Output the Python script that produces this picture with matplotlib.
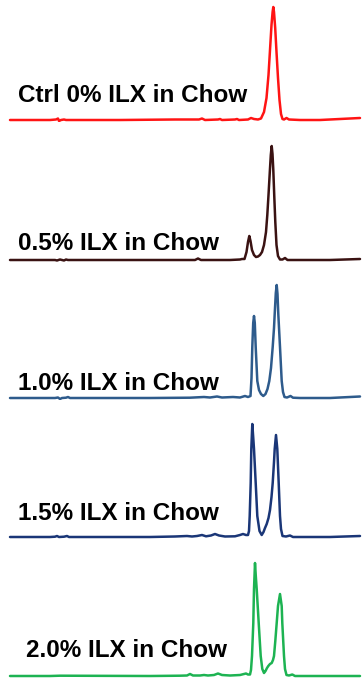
import matplotlib
matplotlib.use("Agg")
import matplotlib.pyplot as plt

# Labels and colours
labels = ["Ctrl 0% ILX in Chow", "0.5% ILX in Chow", "1.0% ILX in Chow",
          "1.5% ILX in Chow", "2.0% ILX in Chow"]
colors = ["#ff1414", "#3a1212", "#2e5b8c", "#1a3677", "#1db352"]

# Chromatogram traces: retention (arbitrary units), detector signal (arbitrary units)
t_ctrl = [10, 50, 56, 58, 59, 61, 64, 66, 120, 175, 199, 202, 205, 218, 220, 222, 235, 237, 239,
          248, 251, 254, 258, 261, 264, 266.5, 268.5, 270, 271.5, 272.6, 273.3, 274, 275.2, 276.5,
          278, 279.5, 281, 282.5, 284, 286.5, 289, 300, 320, 340, 360]
s_ctrl = [0, 0, 0.5, 1.5, -1, 0, 0.5, 0, 0, 0.5, 0.5, 1.5, 0, 0.5, 1, 0, 0.5, 1, 0,
          0.5, 2, 1, 0.5, 1.5, 8, 22, 45, 70, 95, 108, 113, 108, 92, 68,
          42, 20, 6, 1, 0.5, 2, 0.5, 0, 0, 1, 2]

t_05 = [10, 55, 57, 60, 64, 66, 68, 150, 195, 198, 201, 230, 240, 242, 244.5, 246.5, 248, 249.3,
        250.5, 252, 254, 256, 258, 260, 262, 264, 266, 267.3, 268.5, 269.8, 270.8, 271.7, 272.5,
        273.3, 274.3, 275.3, 276.5, 278, 280, 282.5, 285, 287.5, 300, 330, 360]
s_05 = [0, 0, -0.5, 0.5, -0.5, 0.5, 0, 0, 0, 1.5, 0, 0, 0.5, 1, 1, 8, 18, 24,
        19, 10, 5, 3, 3.5, 5, 8, 15, 28, 45, 65, 88, 105, 114, 106,
        90, 63, 38, 15, 4, 0.5, 0.5, 2, 0, 0, 0, 1]

t_10 = [10, 55, 58, 60, 62, 66, 68, 70, 150, 190, 204, 210, 217, 222, 233, 240, 245, 248, 250.5,
        251.5, 252.3, 253.2, 254, 254.8, 255.7, 257.3, 259, 261, 263.3, 265.5, 267.5, 269.3, 271,
        272.7, 274, 274.7, 275.8, 276.7, 277.5, 278.3, 280, 281.7, 283, 284.5, 287, 290.5, 293,
        300, 330, 360]
s_10 = [0, 0, 0.5, -1, 0, 0.3, 1, 0, 0, 0.3, 1, 0.5, 1.5, 0.5, 1, 0.5, 2, 1, 2,
        20, 51, 75, 82, 75, 51, 17, 8, 4, 2, 4, 9, 17, 30,
        51, 70, 84, 105, 113, 104, 84, 51, 17, 6, 1, 0.5, 2, 0.3,
        0, 0, 1.5]

t_15 = [10, 50, 55, 57, 59, 64, 67, 69, 150, 175, 187, 192, 197, 202, 206, 211, 215, 219, 225,
        235, 240, 243, 246, 248, 249, 249.7, 250.7, 251.3, 252.3, 253.2, 254, 255.7, 257.3, 259.5,
        261.7, 263.5, 265, 266.7, 268.5, 270, 271.5, 272.7, 274, 274.7, 276, 277.3, 278.7, 280,
        281, 282.5, 286, 290, 293, 300, 330, 360]
s_15 = [0, 0, 0.3, 1, 0, 0.3, 1, 0, 0, 0.5, 1, 0.5, 1, 2, 0.7, 1.5, 3, 1.5, 0.5,
        0.7, 2, 3, 2, 2, 6, 21, 54, 88, 113, 100, 88, 54, 21, 6,
        2, 5, 9, 13, 19, 27, 40, 54, 75, 88, 102, 88, 54, 21,
        8, 1, 0.5, 1.5, 0, 0, 0, 1]

t_20 = [10, 50, 60, 150, 180, 187, 190, 193, 200, 204, 208, 214, 218, 222, 230, 240, 244, 246,
        248, 250, 251, 252, 253.3, 254, 255, 255.8, 256.7, 258.7, 260.7, 262.3, 264, 265.5, 267,
        268.3, 270, 271.7, 273, 274, 275.3, 276.7, 278, 280, 281.7, 282.3, 284, 285, 286.5, 289,
        292.3, 295, 320, 360]
s_20 = [0, 0, 0.3, 0, 0.3, 0.5, 2, 0.5, 0.5, 1, 0.5, 1, 2.5, 1, 0.5, 1, 2, 2.5,
        1.5, 1.5, 6, 20, 53, 87, 113, 100, 87, 53, 20, 7, 3, 5, 8,
        10, 12, 13, 16, 20, 35, 53, 70, 82, 70, 53, 20, 7, 1, 0.5,
        1.5, 0, 0, 0]

times = [t_ctrl, t_05, t_10, t_15, t_20]
signals = [s_ctrl, s_05, s_10, s_15, s_20]

W, H = 362, 678
fig = plt.figure(figsize=(W / 100, H / 100), dpi=100)

baselines_px = [120, 260, 398, 537, 676]
label_lift = [18, 10, 8, 17, 19]
label_x = [18, 18, 18, 18, 26]
span_px = 137
pad_px = 2

for i in range(5):
    bottom = 1 - (baselines_px[i] + pad_px) / H
    ax = fig.add_axes([0, bottom, 1, span_px / H])
    ax.plot(times[i], signals[i], color=colors[i], lw=1.8,
            solid_joinstyle="round", solid_capstyle="round")
    ax.set_xlim(0, W)
    ax.set_ylim(-pad_px, span_px - pad_px)
    ax.axis("off")
    ax.text(label_x[i], label_lift[i], labels[i], fontsize=17.5, fontweight="bold",
            family=["Liberation Sans", "DejaVu Sans"], color="black",
            ha="left", va="baseline")

fig.savefig("out.png", dpi=100)
